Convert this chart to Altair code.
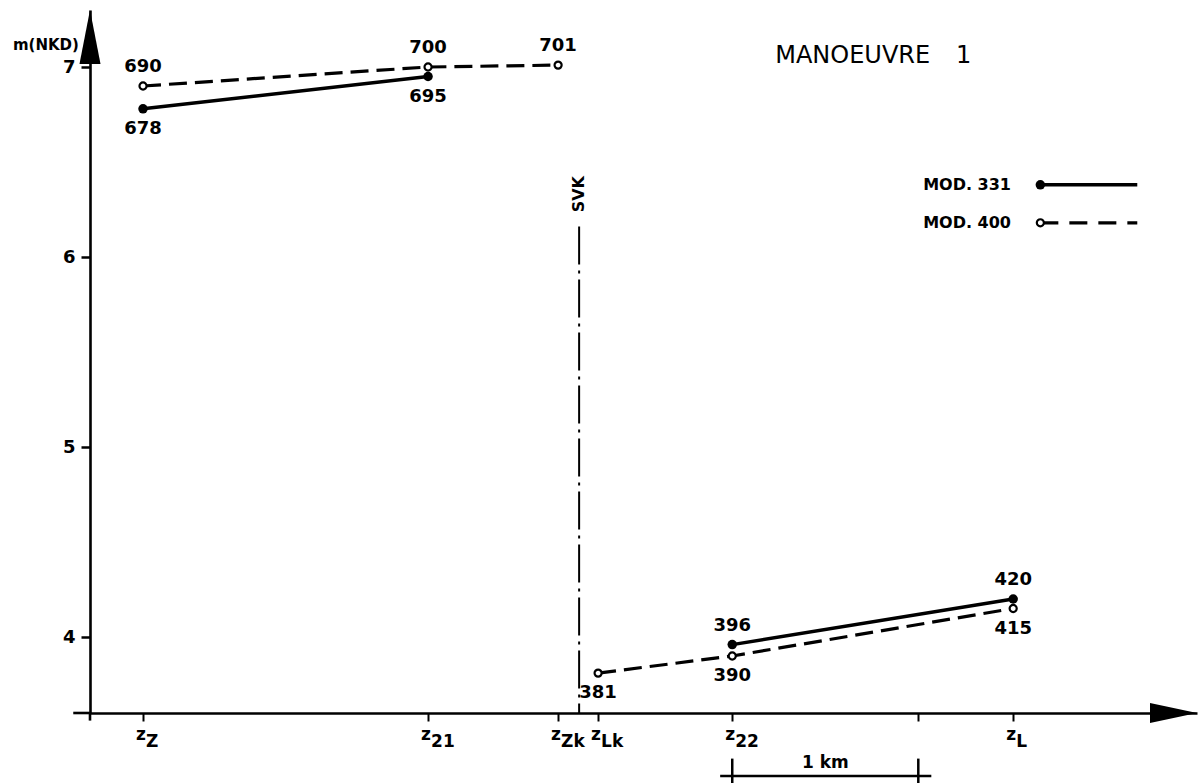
import altair as alt
import pandas as pd

FONT = "DejaVu Sans"

# Stations along the route (distance in km from the origin of the x axis)
station_sub = ["Z", "21", "Zk", "Lk", "22", "L"]
station_km = [0.285, 1.817, 2.516, 2.731, 3.452, 4.962]
svk_km = 2.629

# MOD. 331 (solid line, filled dots)
m331_station = ["Z", "21", "22", "L"]
m331_segment = [1, 1, 2, 2]
m331_value = [6.78, 6.95, 3.96, 4.20]
m331_label = ["678", "695", "396", "420"]
m331_side = ["below", "below", "above", "above"]

# MOD. 400 (dashed line, open circles)
m400_station = ["Z", "21", "Zk", "Lk", "22", "L"]
m400_segment = [1, 1, 1, 2, 2, 2]
m400_value = [6.90, 7.00, 7.01, 3.81, 3.90, 4.15]
m400_label = ["690", "700", "701", "381", "390", "415"]
m400_side = ["above", "above", "above", "below", "below", "below"]

y_ticks = [4, 5, 6, 7]
X_MAX = 5.95
Y_MIN, Y_MAX = 3.6, 7.3

km_of = dict(zip(station_sub, station_km))
scale_bar_start = km_of["22"]
scale_bar_end = km_of["22"] + 1.0
x_ticks = station_km + [scale_bar_end]

df331 = pd.DataFrame({"km": [km_of[s] for s in m331_station], "value": m331_value,
                      "seg": m331_segment, "label": m331_label, "side": m331_side})
df400 = pd.DataFrame({"km": [km_of[s] for s in m400_station], "value": m400_value,
                      "seg": m400_segment, "label": m400_label, "side": m400_side})

xs = alt.Scale(domain=[0, X_MAX], nice=False, zero=False)
ys = alt.Scale(domain=[Y_MIN, Y_MAX], nice=False, zero=False)

x_axis = alt.Axis(values=x_ticks, labels=False, title=None, grid=False,
                  domainColor="black", domainWidth=2.6, tickColor="black",
                  tickWidth=2, tickSize=8)
y_axis = alt.Axis(values=y_ticks, format="d", title=None, grid=False,
                  domainColor="black", domainWidth=2.6, tickColor="black",
                  tickWidth=2.5, tickSize=9, labelFont=FONT, labelFontSize=18,
                  labelFontWeight="bold", labelColor="black", labelPadding=6)


# every layer shares the same scales and axis definitions so they merge
def X(field):
    return alt.X(field, type="quantitative", scale=xs, axis=x_axis)


def Y(field):
    return alt.Y(field, type="quantitative", scale=ys, axis=y_axis)


BLACK = "black"

# data lines
line331 = alt.Chart(df331).mark_line(color=BLACK, strokeWidth=3.4).encode(
    x=X("km"), y=Y("value"), detail="seg:N")
line400 = alt.Chart(df400).mark_line(color=BLACK, strokeWidth=3.2, strokeDash=[18, 8]).encode(
    x=X("km"), y=Y("value"), detail="seg:N")
dots331 = alt.Chart(df331).mark_point(shape="circle", filled=True, color=BLACK, size=90, opacity=1).encode(
    x=X("km"), y=Y("value"))
dots400 = alt.Chart(df400).mark_point(shape="circle", filled=True, fill="white", stroke=BLACK,
                                      strokeWidth=2.2, size=50, opacity=1).encode(
    x=X("km"), y=Y("value"))

both = pd.concat([df331, df400])
lab_above = alt.Chart(both).transform_filter(alt.datum.side == "above").mark_text(
    font=FONT, fontSize=18, fontWeight="bold", color=BLACK, dy=-19, baseline="middle").encode(
    x=X("km"), y=Y("value"), text="label:N")
lab_below = alt.Chart(both).transform_filter(alt.datum.side == "below").mark_text(
    font=FONT, fontSize=18, fontWeight="bold", color=BLACK, dy=20, baseline="middle").encode(
    x=X("km"), y=Y("value"), text="label:N")

# axis extensions and arrowheads
x_ext = alt.Chart(pd.DataFrame({"a": [-0.09], "b": [0.0], "y": [Y_MIN]})).mark_rule(
    color=BLACK, strokeWidth=2.6).encode(x=X("a"), x2="b", y=Y("y"))
y_ext = alt.Chart(pd.DataFrame({"x": [0.0], "a": [Y_MIN - 0.04], "b": [Y_MIN]})).mark_rule(
    color=BLACK, strokeWidth=2.6).encode(x=X("x"), y=Y("a"), y2="b")
y_arrow = alt.Chart(pd.DataFrame({"x": [0.0], "y": [Y_MAX]})).mark_point(
    shape="M0,-1L0.39,1L-0.39,1Z", filled=True, color=BLACK, opacity=1, size=2916, yOffset=27).encode(
    x=X("x"), y=Y("y"))
x_arrow = alt.Chart(pd.DataFrame({"x": [X_MAX], "y": [Y_MIN]})).mark_point(
    shape="M1,0L-1,-0.43L-1,0.43Z", filled=True, color=BLACK, opacity=1, size=2209, xOffset=-23.5).encode(
    x=X("x"), y=Y("y"))

# station labels: "z" with a subscript
st_df = pd.DataFrame({"km": station_km, "sub": station_sub, "z": ["z"] * len(station_sub),
                      "y": [Y_MIN] * len(station_sub)})
z_main = alt.Chart(st_df).mark_text(font=FONT, fontSize=17, fontWeight="bold", color=BLACK,
                                    align="left", baseline="middle", dx=-7, dy=22).encode(
    x=X("km"), y=Y("y"), text="z:N")
z_sub = alt.Chart(st_df).mark_text(font=FONT, fontSize=17, fontWeight="bold", color=BLACK,
                                   align="left", baseline="middle", dx=3, dy=29).encode(
    x=X("km"), y=Y("y"), text="sub:N")

# separation line SVK
svk_df = pd.DataFrame({"x": [svk_km], "top": [6.16], "bottom": [Y_MIN], "ty": [6.32], "t": ["SVK"]})
svk_line = alt.Chart(svk_df).mark_rule(color=BLACK, strokeWidth=2, strokeDash=[38, 6, 3, 6]).encode(
    x=X("x"), y=Y("top"), y2="bottom")
svk_text = alt.Chart(svk_df).mark_text(font=FONT, fontSize=16, fontWeight="bold", color=BLACK,
                                       angle=270, align="center", baseline="middle", dx=2).encode(
    x=X("x"), y=Y("ty"), text="t:N")

# 1 km scale bar below the axis
bar_df = pd.DataFrame({"a": [scale_bar_start - 0.065], "b": [scale_bar_end + 0.07],
                       "y": [Y_MIN - 0.332], "t": ["1 km"],
                       "mid": [(scale_bar_start + scale_bar_end) / 2], "ty": [Y_MIN - 0.263]})
bar_line = alt.Chart(bar_df).mark_rule(color=BLACK, strokeWidth=2.5).encode(
    x=X("a"), x2="b", y=Y("y"))
bar_ticks_df = pd.DataFrame({"x": [scale_bar_start, scale_bar_end],
                             "a": [Y_MIN - 0.24] * 2, "b": [Y_MIN - 0.40] * 2})
bar_ticks = alt.Chart(bar_ticks_df).mark_rule(color=BLACK, strokeWidth=2.5).encode(
    x=X("x"), y=Y("a"), y2="b")
bar_text = alt.Chart(bar_df).mark_text(font=FONT, fontSize=17, fontWeight="bold", color=BLACK,
                                       baseline="middle").encode(
    x=X("mid"), y=Y("ty"), text="t:N")

# headings
head_df = pd.DataFrame({"x": [3.683, 4.655], "y": [7.06, 7.06], "t": ["MANOEUVRE", "1"]})
heading = alt.Chart(head_df).mark_text(font=FONT, fontSize=24, color=BLACK,
                                       align="left", baseline="middle").encode(
    x=X("x"), y=Y("y"), text="t:N")
unit_df = pd.DataFrame({"x": [-0.237], "y": [7.116], "t": ["m(NKD)"]})
unit_lab = alt.Chart(unit_df).mark_text(font=FONT, fontSize=15, fontWeight="bold",
                                        color=BLACK, baseline="middle").encode(
    x=X("x"), y=Y("y"), text="t:N")

# legend
leg_df = pd.DataFrame({"t": ["MOD. 331", "MOD. 400"], "y": [6.38, 6.18],
                       "tx": [4.478, 4.478], "a": [5.108, 5.108], "b": [5.629, 5.629]})
leg_text = alt.Chart(leg_df).mark_text(font=FONT, fontSize=16, fontWeight="bold", color=BLACK,
                                       align="left", baseline="middle").encode(
    x=X("tx"), y=Y("y"), text="t:N")
leg_l1 = alt.Chart(leg_df.iloc[:1]).mark_rule(color=BLACK, strokeWidth=3.4).encode(
    x=X("a"), x2="b", y=Y("y"))
leg_l2 = alt.Chart(leg_df.iloc[1:]).mark_rule(color=BLACK, strokeWidth=3.2, strokeDash=[18, 11]).encode(
    x=X("a"), x2="b", y=Y("y"))
leg_d1 = alt.Chart(leg_df.iloc[:1]).mark_point(shape="circle", filled=True, color=BLACK, size=90,
                                               opacity=1).encode(x=X("a"), y=Y("y"))
leg_d2 = alt.Chart(leg_df.iloc[1:]).mark_point(shape="circle", filled=True, fill="white", stroke=BLACK,
                                               strokeWidth=2.2, size=50, opacity=1).encode(
    x=X("a"), y=Y("y"))

chart = alt.layer(
    line331, line400, x_ext, y_ext, y_arrow, x_arrow, svk_line, svk_text,
    dots331, dots400, lab_above, lab_below, z_main, z_sub,
    bar_line, bar_ticks, bar_text, heading, unit_lab,
    leg_l1, leg_l2, leg_d1, leg_d2, leg_text,
).properties(
    width=1107, height=703,
    autosize=alt.AutoSizeParams(type="none"),
    padding={"left": 90, "top": 10, "right": 1, "bottom": 70},
    background="white",
).configure_view(stroke=None)

chart.save("out.html", embed_options={"renderer": "svg", "actions": False})
